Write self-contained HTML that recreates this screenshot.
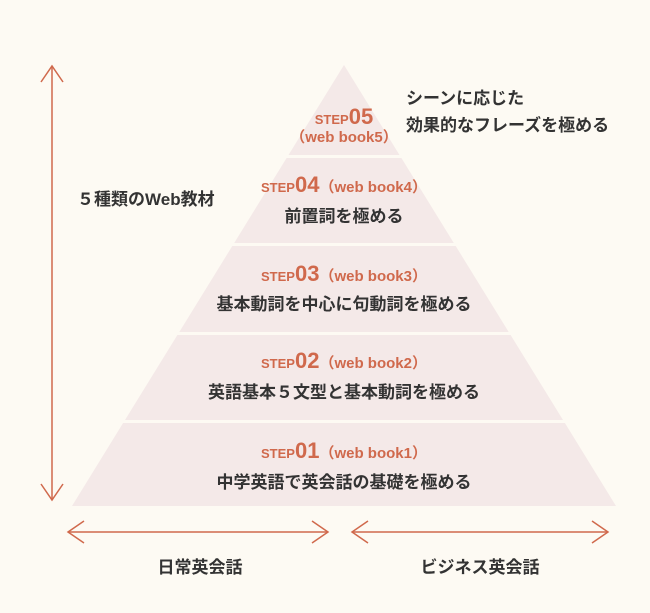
<!DOCTYPE html>
<html><head><meta charset="utf-8"><style>
html,body{margin:0;padding:0;background:#fdfaf3;}
svg{display:block}
text{font-family:"Liberation Sans","Noto Sans CJK JP",sans-serif;}
.o{fill:#d0694c;font-weight:bold}
.k{fill:#333;font-weight:bold;font-size:17px}
</style></head><body>
<svg width="650" height="613" viewBox="0 0 650 613" xmlns="http://www.w3.org/2000/svg">
<rect width="650" height="613" fill="#fdfaf3"/>
<g fill="#f4e9e8">
<polygon points="344,65 399.5,155 288.5,155"/>
<polygon points="286.6,158 401.4,158 453.8,243 234.2,243"/>
<polygon points="232.3,246 455.7,246 508.7,332 179.3,332"/>
<polygon points="177.4,335 510.6,335 563,420 125,420"/>
<polygon points="123.1,423 564.9,423 616,506 72,506"/>
</g>
<g stroke="#d0694c" stroke-width="1.5" fill="none">
<line x1="52" y1="66" x2="52" y2="500"/>
<polyline points="41,82 52,66 63,82"/>
<polyline points="41,484 52,500 63,484"/>
<line x1="68" y1="532" x2="328" y2="532"/>
<polyline points="84,521 68,532 84,543"/>
<polyline points="312,521 328,532 312,543"/>
<line x1="352" y1="532" x2="608" y2="532"/>
<polyline points="368,521 352,532 368,543"/>
<polyline points="592,521 608,532 592,543"/>
</g>
<text x="344" y="124" text-anchor="middle" class="o"><tspan font-size="13">STEP</tspan><tspan font-size="22">05</tspan></text>
<text x="344" y="142" text-anchor="middle" class="o" font-size="15">（web book5）</text>
<text x="406" y="104" class="k">シーンに応じた</text>
<text x="406" y="131" class="k">効果的なフレーズを極める</text>
<text x="77" y="205" class="k">５種類のWeb教材</text>

<text x="344" y="192" text-anchor="middle" class="o"><tspan font-size="13">STEP</tspan><tspan font-size="22">04</tspan><tspan font-size="15">（web book4）</tspan></text>
<text x="344" y="222" text-anchor="middle" class="k">前置詞を極める</text>

<text x="344" y="281" text-anchor="middle" class="o"><tspan font-size="13">STEP</tspan><tspan font-size="22">03</tspan><tspan font-size="15">（web book3）</tspan></text>
<text x="344" y="310" text-anchor="middle" class="k">基本動詞を中心に句動詞を極める</text>

<text x="344" y="368" text-anchor="middle" class="o"><tspan font-size="13">STEP</tspan><tspan font-size="22">02</tspan><tspan font-size="15">（web book2）</tspan></text>
<text x="344" y="398" text-anchor="middle" class="k">英語基本５文型と基本動詞を極める</text>

<text x="344" y="458" text-anchor="middle" class="o"><tspan font-size="13">STEP</tspan><tspan font-size="22">01</tspan><tspan font-size="15">（web book1）</tspan></text>
<text x="344" y="488" text-anchor="middle" class="k">中学英語で英会話の基礎を極める</text>

<text x="200" y="573" text-anchor="middle" class="k">日常英会話</text>
<text x="480" y="573" text-anchor="middle" class="k">ビジネス英会話</text>
</svg>
</body></html>
